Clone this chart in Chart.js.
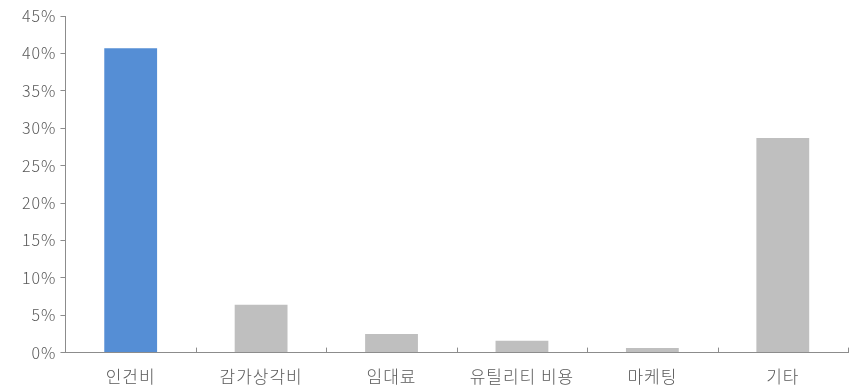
<!DOCTYPE html>
<html>
<head>
<meta charset="utf-8">
<script src="https://cdn.jsdelivr.net/npm/chart.js@4"></script>
<style>
  html, body { margin: 0; padding: 0; background: #fff; }
  #wrap { width: 850px; height: 385px; }
</style>
</head>
<body>
<div id="wrap"><canvas id="costChart" width="850" height="385"></canvas></div>
<script>
// Cost breakdown (% share)
const categories = ['인건비', '감가상각비', '임대료', '유틸리티 비용', '마케팅', '기타'];
const shares = [40.7, 6.4, 2.5, 1.6, 0.6, 28.7];
const barColors = ['#558ed5', '#bfbfbf', '#bfbfbf', '#bfbfbf', '#bfbfbf', '#bfbfbf'];

const axisColor = '#8c8c8c';
const fontFamily = '"Noto Sans CJK KR", "Noto Sans", sans-serif';

// Slightly spaced-out lettering for all axis text
const spacedText = {
    id: 'spacedText',
    beforeDraw(chart) {
        chart.ctx.letterSpacing = '1px';
    }
};

// Short tick marks between categories, pointing up into the plot
const categoryTicks = {
    id: 'categoryTicks',
    afterDraw(chart) {
        const x = chart.scales.x;
        const ctx = chart.ctx;
        ctx.save();
        ctx.strokeStyle = axisColor;
        ctx.lineWidth = 1;
        for (let i = 0; i <= categories.length; i++) {
            const px = Math.round(x.getPixelForValue(i - 0.5)) + 0.5;
            ctx.beginPath();
            ctx.moveTo(px, x.top);
            ctx.lineTo(px, x.top - 5);
            ctx.stroke();
        }
        ctx.restore();
    }
};

const ctx = document.getElementById('costChart').getContext('2d');
new Chart(ctx, {
    type: 'bar',
    data: {
        labels: categories,
        datasets: [{
            data: shares,
            backgroundColor: barColors,
            borderWidth: 0,
            categoryPercentage: 1.0,
            barPercentage: 0.405
        }]
    },
    options: {
        responsive: false,
        animation: false,
        layout: {
            padding: { top: 16, right: 2, left: 21, bottom: -8 }
        },
        plugins: {
            legend: { display: false },
            tooltip: { enabled: false }
        },
        scales: {
            x: {
                grid: { display: false },
                border: { display: true, color: axisColor, width: 1 },
                ticks: {
                    color: '#595959',
                    padding: 6,
                    font: { family: fontFamily, size: 17, weight: '300' }
                }
            },
            y: {
                min: 0,
                max: 45,
                grid: {
                    drawOnChartArea: false,
                    drawTicks: true,
                    tickLength: 5,
                    color: axisColor
                },
                border: { display: true, color: axisColor, width: 1 },
                ticks: {
                    stepSize: 5,
                    color: '#595959',
                    padding: 4,
                    font: { family: fontFamily, size: 16, weight: '300' },
                    callback: v => v + '%'
                }
            }
        }
    },
    plugins: [spacedText, categoryTicks]
});
</script>
</body>
</html>
